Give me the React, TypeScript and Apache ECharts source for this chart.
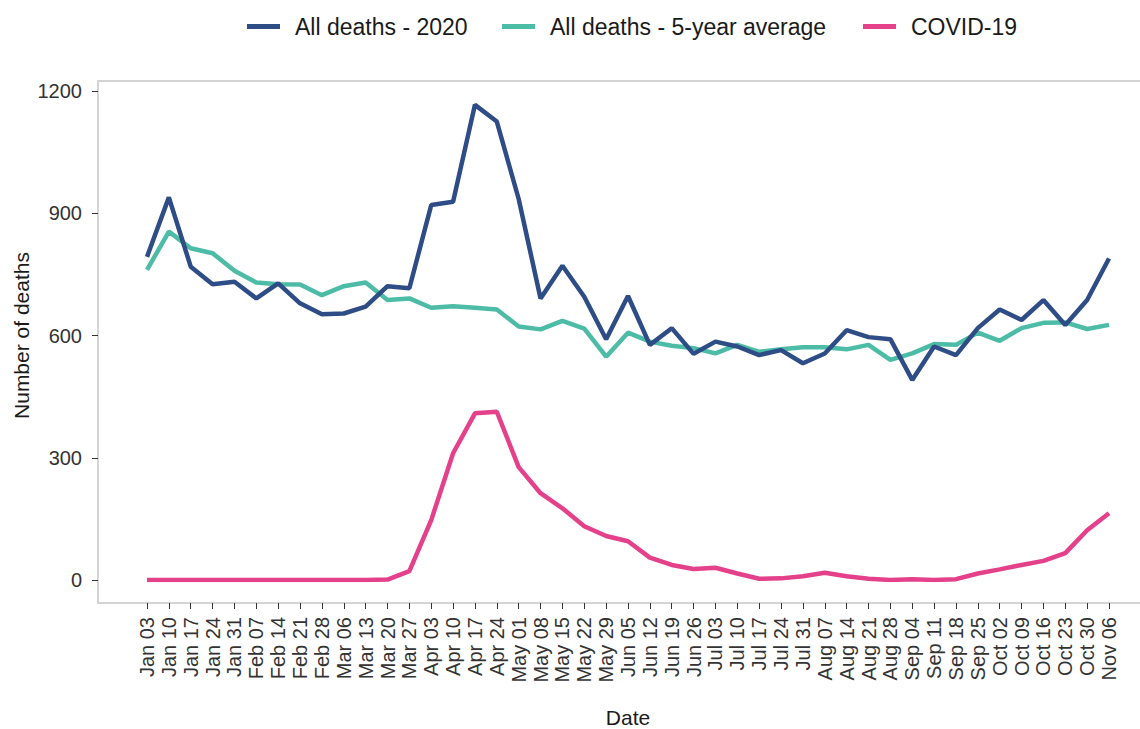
import React, { useEffect, useRef } from "react";
import * as echarts from "echarts";

const dates = [
  "Jan 03", "Jan 10", "Jan 17", "Jan 24", "Jan 31",
  "Feb 07", "Feb 14", "Feb 21", "Feb 28",
  "Mar 06", "Mar 13", "Mar 20", "Mar 27",
  "Apr 03", "Apr 10", "Apr 17", "Apr 24",
  "May 01", "May 08", "May 15", "May 22", "May 29",
  "Jun 05", "Jun 12", "Jun 19", "Jun 26",
  "Jul 03", "Jul 10", "Jul 17", "Jul 24", "Jul 31",
  "Aug 07", "Aug 14", "Aug 21", "Aug 28",
  "Sep 04", "Sep 11", "Sep 18", "Sep 25",
  "Oct 02", "Oct 09", "Oct 16", "Oct 23", "Oct 30",
  "Nov 06",
];

const deaths2020 = [
  793, 939, 769, 726, 732, 691, 728, 679, 652, 654, 671, 721, 716,
  920, 928, 1166, 1125, 935, 691, 771, 695, 591, 697, 577, 618, 555,
  585, 573, 552, 564, 532, 556, 613, 596, 591, 491, 573, 552, 618,
  664, 638, 687, 626, 687, 789,
];

const avg5 = [
  761, 855, 814, 802, 759, 730, 726, 725, 699, 721, 730, 687, 691,
  668, 672, 668, 664, 622, 615, 636, 617, 548, 607, 585, 575, 569,
  556, 577, 560, 566, 571, 571, 566, 577, 540, 556, 579, 577, 607,
  587, 618, 631, 632, 616, 626,
];

const covid19 = [
  0, 0, 0, 0, 0, 0, 0, 0, 0, 0, 0, 1, 22,
  147, 311, 409, 413, 277, 213, 176, 132, 108, 95, 55, 37, 27,
  30, 16, 3, 4, 9, 18, 9, 3, 0, 2, 0, 2, 16,
  26, 37, 47, 66, 122, 164,
];

const yTicks = [0, 300, 600, 900, 1200];

const seriesNames = ["All deaths - 2020", "All deaths - 5-year average", "COVID-19"];
const seriesColors = ["#2E4C86", "#4DBCA6", "#E4418A"];

const FONT = "'Liberation Sans', Arial, sans-serif";

export default function App() {
  const ref = useRef<HTMLDivElement>(null);

  useEffect(() => {
    document.body.style.margin = "0";
    if (!ref.current) return;
    const chart = echarts.init(ref.current, undefined, { renderer: "svg" });
    const legendLefts = [242, 497, 858];
    chart.setOption({
      animation: false,
      backgroundColor: "#ffffff",
      textStyle: { fontFamily: FONT },
      legend: seriesNames.map((n, i) => ({
        data: [n],
        left: legendLefts[i],
        top: 10,
        icon: "rect",
        itemWidth: 33,
        itemHeight: 5,
        textStyle: {
          fontSize: 23,
          color: "#1a1a1a",
          fontFamily: FONT,
          padding: [0, 0, 0, 10],
        },
        selectedMode: false,
      })),
      grid: {
        left: 147,
        width: 962,
        top: 91,
        height: 489,
        containLabel: false,
        outerBoundsMode: "none",
      },
      graphic: [
        {
          type: "rect",
          shape: { x: 98, y: 81, width: 1060, height: 522 },
          style: { fill: "none", stroke: "#d4d4d4", lineWidth: 2 },
          silent: true,
        },
      ],
      xAxis: {
        type: "category",
        data: dates,
        boundaryGap: false,
        offset: 23,
        axisLine: { show: false, onZero: false },
        axisTick: {
          show: true,
          alignWithLabel: true,
          length: 6,
          lineStyle: { color: "#333333", width: 1 },
        },
        axisLabel: {
          rotate: 90,
          interval: 0,
          margin: 14,
          fontSize: 20,
          color: "#333333",
          fontFamily: FONT,
        },
        name: "Date",
        nameLocation: "middle",
        nameGap: 104,
        nameMoveOverlap: false,
        nameTextStyle: { fontSize: 21, color: "#1a1a1a", fontFamily: FONT },
        splitLine: { show: false },
      },
      yAxis: {
        type: "value",
        min: yTicks[0],
        max: yTicks[yTicks.length - 1],
        interval: 300,
        offset: 49,
        axisLine: { show: false, onZero: false },
        axisTick: { show: true, length: 6, lineStyle: { color: "#333333", width: 1 } },
        axisLabel: {
          margin: 16,
          fontSize: 20,
          color: "#333333",
          fontFamily: FONT,
          formatter: (v: number) => String(v),
        },
        splitLine: { show: false },
        name: "Number of deaths",
        nameLocation: "middle",
        nameGap: 66,
        nameMoveOverlap: false,
        nameTextStyle: { fontSize: 21, color: "#1a1a1a", fontFamily: FONT },
      },
      series: [deaths2020, avg5, covid19].map((d, i) => ({
        name: seriesNames[i],
        type: "line",
        data: d,
        showSymbol: false,
        symbol: "none",
        lineStyle: { color: seriesColors[i], width: 4.5 },
        itemStyle: { color: seriesColors[i] },
        z: 3 - i,
      })),
    });
    return () => chart.dispose();
  }, []);

  return <div ref={ref} style={{ width: 1140, height: 729 }} />;
}
